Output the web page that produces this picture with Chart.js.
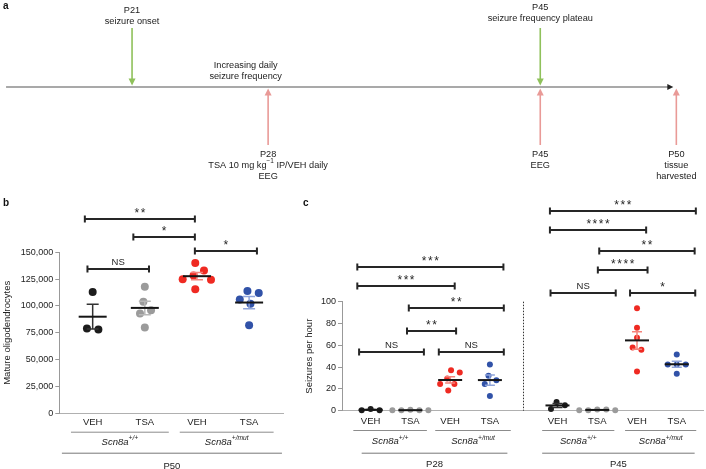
<!DOCTYPE html>
<html>
<head>
<meta charset="utf-8">
<title>Scn8a TSA oligodendrocytes and seizures</title>
<script src="https://cdn.jsdelivr.net/npm/chart.js@4.4.1/dist/chart.umd.min.js"></script>
<style>
  html, body { margin: 0; padding: 0; background: #fff; }
  #fig { position: relative; width: 706px; height: 469px; overflow: hidden; }
  canvas { position: absolute; }
  .tag { position: absolute; font: bold 10px "Liberation Sans", Arial, sans-serif; color: #111; }
</style>
</head>
<body>
<div id="fig">
  <canvas id="timeline" width="706" height="185" style="left:0;top:0"></canvas>
  <canvas id="oligo" width="300" height="284" style="left:0;top:185px"></canvas>
  <canvas id="seizures" width="406" height="284" style="left:300px;top:185px"></canvas>
  <div class="tag" style="left:3px;top:0">a</div>
  <div class="tag" style="left:3px;top:197px">b</div>
  <div class="tag" style="left:303px;top:197px">c</div>
</div>
<script>
// ---------- data ----------

// panel a: milestones (slot = order on the schematic line)
const upSlots = [1, 4];
const upLabels = [["P21", "seizure onset"], ["P45", "seizure frequency plateau"]];
const downSlots = [2, 4, 5];
const downLabels = [
    ["P28", [["TSA 10 mg kg", false], ["\u22121", true], [" IP/VEH daily", false]], "EEG"],
    ["P45", "EEG"],
    ["P50", "tissue", "harvested"]
];
const phaseLabel = ["Increasing daily", "seizure frequency"];

// shared categories
const treatLabels = ["VEH", "TSA", "VEH", "TSA"];
const genotypes = ["+/+", "+/mut"];

// panel b: mature oligodendrocytes at P50
const oligoWtVeh = [113000, 78000, 79000];
const oligoWtTsa = [118000, 104000, 96000, 93000, 80000];
const oligoMutVeh = [140000, 133000, 128500, 125000, 124500, 115500];
const oligoMutTsa = [114000, 112000, 106000, 102000, 82000];
const oligoTicks = [0, 25000, 50000, 75000, 100000, 125000, 150000];

// panel c: seizures per hour
const ages = ["P28", "P45"];
const p28WtVeh = [0.5, 1.5, 0.5];
const p28WtTsa = [0.3, 0.5, 0.8, 0.5, 0.3];
const p28MutVeh = [37, 35, 29.5, 24.5, 24.5, 18.5];
const p28MutTsa = [42.5, 32, 28, 24.5, 13.5];
const p45WtVeh = [8, 5, 1.5];
const p45WtTsa = [0.5, 0.5, 1, 1, 0.5];
const p45MutVeh = [94, 76, 67, 58, 56, 36];
const p45MutTsa = [51.5, 42.5, 42.5, 42.5, 34];
const seizureTicks = [0, 20, 40, 60, 80, 100];

// significance comparisons: [from, to, level, label]
const sigBarsB = [
    [0.85, 2.96, 180700, "**"],
    [1.78, 2.96, 164500, "*"],
    [2.96, 4.15, 151500, "*"],
    [0.90, 2.08, 134400, "NS"]
];
const sigBarsC = [
    [0.665, 4.34, 131.6, "***"],
    [0.665, 3.115, 114.4, "***"],
    [1.96, 4.35, 93.9, "**"],
    [1.915, 3.15, 73.1, "**"],
    [0.71, 2.34, 53.9, "NS"],
    [2.715, 4.35, 53.9, "NS"],
    [5.51, 9.18, 183.5, "***"],
    [5.51, 7.93, 165.8, "****"],
    [6.75, 9.15, 146.8, "**"],
    [6.715, 7.965, 129.1, "****"],
    [5.525, 7.165, 108.3, "NS"],
    [7.525, 9.165, 108.3, "*"]
];

// ---------- layout / style ----------
const FONT = '"Liberation Sans", Arial, sans-serif';
const dotColors = ["#1c1c1c", "#9b9b9b", "#ef2a22", "#3152a8"];
const errColors = ["#333333", "#b8b8b8", "#f4837b", "#8fa4da"];
const slotB = [1, 2, 3, 4];
const slotC = [1, 2, 3, 4, 5.7, 6.7, 7.7, 8.7];

Chart.defaults.font.family = FONT;
Chart.defaults.font.size = 9.5;
Chart.defaults.color = "#222";

function mean(a) { return a.reduce((s, v) => s + v, 0) / a.length; }
function sem(a) {
    const m = mean(a);
    const v = a.reduce((s, x) => s + (x - m) ** 2, 0) / (a.length - 1);
    return Math.sqrt(v / a.length);
}

// text with optional superscript parts: [[text, isSup], ...]
function richText(ctx, parts, cx, cy, size, italic) {
    const f = (s) => (italic ? "italic " : "") + (s ? size * 0.7 : size) + "px " + FONT;
    let w = 0;
    parts.forEach(([t, s]) => { ctx.font = f(s); w += ctx.measureText(t).width; });
    let xx = cx - w / 2;
    ctx.textAlign = "left";
    ctx.textBaseline = "middle";
    parts.forEach(([t, s]) => {
        ctx.font = f(s);
        ctx.fillText(t, xx, s ? cy - size * 0.38 : cy);
        xx += ctx.measureText(t).width;
    });
}

// simple beeswarm: horizontal offsets in pixels
function swarmOffsets(values, pxPerY, d) {
    const ys = values.map(v => v * pxPerY);
    const order = ys.map((_, i) => i).sort((a, b) => ys[b] - ys[a]);
    const placed = [];
    const off = new Array(values.length).fill(0);
    order.forEach(i => {
        const y = ys[i];
        const cands = [0];
        placed.forEach(p => {
            const dy = Math.abs(p.y - y);
            if (dy < d) {
                const dx = Math.sqrt(d * d - dy * dy);
                cands.push(p.x + dx, p.x - dx);
            }
        });
        cands.sort((a, b) => Math.abs(a) - Math.abs(b) || b - a);
        let x = cands.find(c => placed.every(p => (p.x - c) ** 2 + (p.y - y) ** 2 >= d * d - 0.01));
        if (x === undefined) x = Math.max(...placed.map(p => Math.abs(p.x))) + d;
        placed.push({ x, y });
        off[i] = x;
    });
    let run = [order[0]];
    const flush = () => {
        const m = run.reduce((s, k) => s + off[k], 0) / run.length;
        run.forEach(k => { off[k] -= m; });
    };
    for (let k = 1; k < order.length; k++) {
        if (ys[order[k - 1]] - ys[order[k]] < d) run.push(order[k]);
        else { flush(); run = [order[k]]; }
    }
    flush();
    return off;
}

function applySwarm(chart, groups, slots, d) {
    const xs = chart.scales.x, ys = chart.scales.y;
    const pxX = xs.getPixelForValue(1) - xs.getPixelForValue(0);
    const pxY = ys.getPixelForValue(0) - ys.getPixelForValue(1);
    chart.data.datasets.forEach((ds, i) => {
        const off = swarmOffsets(groups[i], pxY, d);
        ds.data = groups[i].map((v, k) => ({ x: slots[i] + off[k] / pxX, y: v }));
    });
    chart.update("none");
}

// ---------- plugins ----------
const statsPlugin = {
    id: "stats",
    afterDatasetsDraw(chart, args, o) {
        const { ctx, scales: { x, y } } = chart;
        ctx.save();
        o.groups.forEach((vals, i) => {
            const m = mean(vals), e = sem(vals);
            const px = x.getPixelForValue(o.slots[i]);
            const yT = y.getPixelForValue(m + e), yB = y.getPixelForValue(m - e), yM = y.getPixelForValue(m);
            ctx.strokeStyle = errColors[i % 4];
            ctx.lineWidth = 1.5;
            ctx.beginPath();
            ctx.moveTo(px, yT); ctx.lineTo(px, yB);
            ctx.moveTo(px - o.cap, yT); ctx.lineTo(px + o.cap, yT);
            ctx.moveTo(px - o.cap, yB); ctx.lineTo(px + o.cap, yB);
            ctx.stroke();
            ctx.strokeStyle = "#151515";
            ctx.lineWidth = 2;
            ctx.beginPath();
            ctx.moveTo(px - o.half, yM); ctx.lineTo(px + o.half, yM);
            ctx.stroke();
        });
        ctx.restore();
    }
};

const sigPlugin = {
    id: "sig",
    afterDraw(chart, args, o) {
        const { ctx, scales: { x, y } } = chart;
        ctx.save();
        ctx.strokeStyle = "#262626";
        ctx.fillStyle = "#262626";
        ctx.lineWidth = 2;
        o.bars.forEach(([a, b, v, label]) => {
            const x1 = x.getPixelForValue(a), x2 = x.getPixelForValue(b);
            const py = Math.round(y.getPixelForValue(v));
            ctx.beginPath();
            ctx.moveTo(x1, py); ctx.lineTo(x2, py);
            ctx.moveTo(x1, py - 3.5); ctx.lineTo(x1, py + 3.5);
            ctx.moveTo(x2, py - 3.5); ctx.lineTo(x2, py + 3.5);
            ctx.stroke();
            const cx = (x1 + x2) / 2;
            ctx.textAlign = "center";
            ctx.textBaseline = "alphabetic";
            if (label[0] === "*") {
                ctx.font = "12px " + FONT;
                const n = label.length;
                for (let k = 0; k < n; k++) ctx.fillText("*", cx + (k - (n - 1) / 2) * 6.2, py - 1.6);
            } else {
                ctx.font = "9.5px " + FONT;
                ctx.fillText(label, cx, py - 4);
            }
        });
        ctx.restore();
    }
};

const groupAxisPlugin = {
    id: "groupAxis",
    afterDraw(chart, args, o) {
        const { ctx, scales: { x }, chartArea } = chart;
        const base = chartArea.bottom;
        ctx.save();
        ctx.fillStyle = "#222";
        o.genoSpans.forEach(([a, b], i) => {
            const x1 = x.getPixelForValue(a), x2 = x.getPixelForValue(b);
            ctx.strokeStyle = "#8c8c8c";
            ctx.lineWidth = 1;
            ctx.beginPath();
            ctx.moveTo(x1, base + o.under + 0.5); ctx.lineTo(x2, base + o.under + 0.5);
            ctx.stroke();
            richText(ctx, [["Scn8a", false], [genotypes[i % 2], true]], (x1 + x2) / 2, base + o.genoY, 9.5, true);
        });
        o.ageSpans.forEach(([a, b], i) => {
            const x1 = x.getPixelForValue(a), x2 = x.getPixelForValue(b);
            ctx.strokeStyle = "#777";
            ctx.lineWidth = 1;
            ctx.beginPath();
            ctx.moveTo(x1, base + o.outer + 0.5); ctx.lineTo(x2, base + o.outer + 0.5);
            ctx.stroke();
            ctx.font = "9.5px " + FONT;
            ctx.textAlign = "center";
            ctx.textBaseline = "middle";
            ctx.fillText(o.ageText[i], (x1 + x2) / 2, base + o.ageY);
        });
        if (o.divider !== undefined) {
            const dx = Math.round(x.getPixelForValue(o.divider)) + 0.5;
            ctx.strokeStyle = "#333";
            ctx.setLineDash([1.5, 1.5]);
            ctx.beginPath();
            ctx.moveTo(dx, chartArea.top); ctx.lineTo(dx, chartArea.bottom);
            ctx.stroke();
        }
        ctx.restore();
    }
};

function drawArrow(ctx, x, yFrom, yTo, color) {
    const dir = Math.sign(yTo - yFrom);
    ctx.strokeStyle = color;
    ctx.fillStyle = color;
    ctx.lineWidth = 1.6;
    ctx.beginPath();
    ctx.moveTo(x, yFrom); ctx.lineTo(x, yTo - dir * 5);
    ctx.stroke();
    ctx.beginPath();
    ctx.moveTo(x, yTo);
    ctx.lineTo(x - 3.5, yTo - dir * 7);
    ctx.lineTo(x + 3.5, yTo - dir * 7);
    ctx.closePath();
    ctx.fill();
}

function drawLines(ctx, lines, cx, y0, step) {
    ctx.fillStyle = "#222";
    lines.forEach((ln, k) => {
        const parts = typeof ln === "string" ? [[ln, false]] : ln;
        richText(ctx, parts, cx, y0 + k * step, 9.2, false);
    });
}

const timelinePlugin = {
    id: "timeline",
    afterDraw(chart) {
        const { ctx, scales: { x } } = chart;
        const ly = 87;
        ctx.save();
        const x0 = x.getPixelForValue(0.074), x1 = x.getPixelForValue(5) - 3;
        ctx.strokeStyle = "#555";
        ctx.lineWidth = 1.1;
        ctx.beginPath();
        ctx.moveTo(x0, ly); ctx.lineTo(x1 - 4, ly);
        ctx.stroke();
        ctx.fillStyle = "#222";
        ctx.beginPath();
        ctx.moveTo(x1, ly); ctx.lineTo(x1 - 6, ly - 3); ctx.lineTo(x1 - 6, ly + 3);
        ctx.closePath();
        ctx.fill();

        upSlots.forEach((s, i) => {
            const px = x.getPixelForValue(s);
            drawArrow(ctx, px, 28, 85.5, "#8fc15b");
            drawLines(ctx, upLabels[i], px, i === 0 ? 10.7 : 7.3, 11.2);
        });
        downSlots.forEach((s, i) => {
            const px = x.getPixelForValue(s);
            drawArrow(ctx, px, 145, 88.5, "#e99a97");
            drawLines(ctx, downLabels[i], px, 154, 11);
        });
        drawLines(ctx, phaseLabel, x.getPixelForValue(1.835), 65, 11);
        ctx.restore();
    }
};

// ---------- panel a ----------
new Chart(document.getElementById("timeline"), {
    type: "scatter",
    data: { datasets: [{ data: [] }] },
    options: {
        responsive: false,
        animation: false,
        events: [],
        layout: { padding: 0 },
        plugins: { legend: { display: false }, tooltip: { enabled: false } },
        scales: {
            x: { type: "linear", display: false, min: 0.0296, max: 5.218 },
            y: { display: false, min: 0, max: 1 }
        }
    },
    plugins: [timelinePlugin]
});

// ---------- panel b ----------
const oligoGroups = [oligoWtVeh, oligoWtTsa, oligoMutVeh, oligoMutTsa];

const chartB = new Chart(document.getElementById("oligo"), {
    type: "scatter",
    data: {
        datasets: oligoGroups.map((g, i) => ({
            data: g.map(v => ({ x: slotB[i], y: v })),
            backgroundColor: dotColors[i],
            borderWidth: 0,
            pointRadius: 4,
            pointHoverRadius: 4,
            clip: false
        }))
    },
    options: {
        responsive: false,
        animation: false,
        events: [],
        layout: { padding: { top: 67.3, right: 17, bottom: 0, left: 0 } },
        plugins: {
            legend: { display: false },
            tooltip: { enabled: false },
            stats: { groups: oligoGroups, slots: slotB, half: 14, cap: 6 },
            sig: { bars: sigBarsB },
            groupAxis: {
                genoSpans: [[0.584, 2.46], [2.67, 4.47]],
                ageSpans: [[0.41, 4.63]],
                ageText: ["P50"],
                under: 18.4, genoY: 28.6, outer: 39.4, ageY: 53.4
            }
        },
        scales: {
            x: {
                type: "linear",
                min: 0.36,
                max: 4.65,
                afterBuildTicks: s => { s.ticks = slotB.map(v => ({ value: v })); },
                afterFit: s => { s.height = 55.7; },
                grid: { drawOnChartArea: false, drawTicks: false },
                border: { color: "#b0b0b0" },
                ticks: { autoSkip: false, maxRotation: 0, padding: 3, font: { size: 9.5 }, callback: (v, i) => treatLabels[i] }
            },
            y: {
                min: 0,
                max: 150000,
                afterBuildTicks: s => { s.ticks = oligoTicks.map(v => ({ value: v })); },
                afterFit: s => { s.width = 59.3; },
                grid: { drawOnChartArea: false, tickLength: 4, color: "#999" },
                border: { color: "#999" },
                ticks: { padding: 2, font: { size: 9 }, callback: v => v.toLocaleString("en-US") },
                title: { display: true, text: "Mature oligodendrocytes", padding: { top: 1.3, bottom: 0 }, font: { size: 9.5 } }
            }
        }
    },
    plugins: [statsPlugin, sigPlugin, groupAxisPlugin]
});
applySwarm(chartB, oligoGroups, slotB, 11.5);

// ---------- panel c ----------
const seizureGroups = [p28WtVeh, p28WtTsa, p28MutVeh, p28MutTsa, p45WtVeh, p45WtTsa, p45MutVeh, p45MutTsa];

const chartC = new Chart(document.getElementById("seizures"), {
    type: "scatter",
    data: {
        datasets: seizureGroups.map((g, i) => ({
            data: g.map(v => ({ x: slotC[i], y: v })),
            backgroundColor: dotColors[i % 4],
            borderWidth: 0,
            pointRadius: 3,
            pointHoverRadius: 3,
            clip: false
        }))
    },
    options: {
        responsive: false,
        animation: false,
        events: [],
        layout: { padding: { top: 116.7, right: 1, bottom: 0, left: 0 } },
        plugins: {
            legend: { display: false },
            tooltip: { enabled: false },
            stats: { groups: seizureGroups, slots: slotC, half: 12, cap: 5 },
            sig: { bars: sigBarsC },
            groupAxis: {
                genoSpans: [[0.565, 2.415], [2.625, 4.525], [5.315, 7.13], [7.4, 9.19]],
                ageSpans: [[0.775, 4.44], [5.315, 9.15]],
                ageText: ages,
                under: 19.3, genoY: 31, outer: 42, ageY: 53.3,
                divider: 4.83
            }
        },
        scales: {
            x: {
                type: "linear",
                min: 0.28,
                max: 9.36,
                afterBuildTicks: s => { s.ticks = slotC.map(v => ({ value: v })); },
                afterFit: s => { s.height = 58.3; },
                grid: { drawOnChartArea: false, drawTicks: false },
                border: { color: "#b0b0b0" },
                ticks: { autoSkip: false, maxRotation: 0, padding: 5, font: { size: 9.5 }, callback: (v, i) => treatLabels[i % 4] }
            },
            y: {
                min: 0,
                max: 100,
                afterBuildTicks: s => { s.ticks = seizureTicks.map(v => ({ value: v })); },
                afterFit: s => { s.width = 42; },
                grid: { drawOnChartArea: false, tickLength: 4, color: "#999" },
                border: { color: "#999" },
                ticks: { padding: 2, font: { size: 9 } },
                title: { display: true, text: "Seizures per hour", padding: { top: 3.3, bottom: 0 }, font: { size: 9.5 } }
            }
        }
    },
    plugins: [statsPlugin, sigPlugin, groupAxisPlugin]
});
applySwarm(chartC, seizureGroups, slotC, 9);
</script>
</body>
</html>
